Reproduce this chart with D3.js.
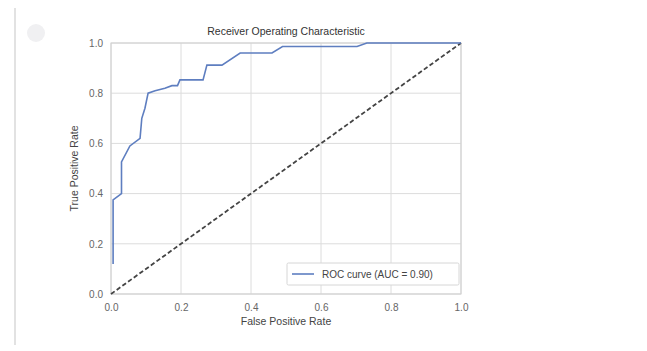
<!DOCTYPE html>
<html>
<head>
<meta charset="utf-8">
<script src="https://cdn.jsdelivr.net/npm/d3@7"></script>
<style>
  html, body { margin: 0; padding: 0; background: #fff; }
  svg { display: block; font-family: "Liberation Sans", Arial, sans-serif; }
</style>
</head>
<body>
<svg id="chart" width="647" height="351"></svg>
<script>
// ROC curve points (false positive rate, true positive rate)
const fpr = [0.006, 0.006, 0.030, 0.030, 0.054, 0.083, 0.088, 0.097, 0.106, 0.126, 0.154, 0.174, 0.190, 0.197, 0.263, 0.274, 0.317, 0.369, 0.460, 0.490, 0.703, 0.731, 1.0];
const tpr = [0.120, 0.375, 0.400, 0.526, 0.590, 0.620, 0.700, 0.740, 0.800, 0.810, 0.820, 0.830, 0.830, 0.853, 0.853, 0.912, 0.912, 0.960, 0.960, 0.986, 0.986, 1.0, 1.0];
const auc = 0.90;
const xTicks = [0.0, 0.2, 0.4, 0.6, 0.8, 1.0];
const yTicks = [0.0, 0.2, 0.4, 0.6, 0.8, 1.0];
const chance = [0, 1];

const svg = d3.select("#chart");
const margin = { left: 111, right: 186, top: 43, bottom: 57 };
const W = 647, H = 351;
const x = d3.scaleLinear().domain([0, 1]).range([margin.left, W - margin.right]);
const y = d3.scaleLinear().domain([0, 1]).range([H - margin.bottom, margin.top]);

// notebook gutter and prompt marker
svg.append("line").attr("x1", 15).attr("x2", 15).attr("y1", 8).attr("y2", 345)
  .attr("stroke", "#e2e2e2").attr("stroke-width", 2);
svg.append("circle").attr("cx", 36).attr("cy", 33).attr("r", 9).attr("fill", "#f0f0f2");

// grid
const grid = svg.append("g");
grid.selectAll(".gx").data(xTicks).join("line")
  .attr("x1", d => x(d)).attr("x2", d => x(d))
  .attr("y1", y(0)).attr("y2", y(1))
  .attr("stroke", "#dcdcdc").attr("stroke-width", 1);
grid.selectAll(".gy").data(yTicks).join("line")
  .attr("y1", d => y(d)).attr("y2", d => y(d))
  .attr("x1", x(0)).attr("x2", x(1))
  .attr("stroke", "#dcdcdc").attr("stroke-width", 1);

// frame
svg.append("rect").attr("x", x(0)).attr("y", y(1))
  .attr("width", x(1) - x(0)).attr("height", y(0) - y(1))
  .attr("fill", "none").attr("stroke", "#cfcfcf").attr("stroke-width", 1);

// axes (labels only)
const xAxis = d3.axisBottom(x).tickValues(xTicks).tickFormat(d3.format(".1f")).tickSize(0).tickPadding(10);
const yAxis = d3.axisLeft(y).tickValues(yTicks).tickFormat(d3.format(".1f")).tickSize(0).tickPadding(8);
const gx = svg.append("g").attr("transform", `translate(0,${y(0)})`).call(xAxis);
const gy = svg.append("g").attr("transform", `translate(${x(0)},0)`).call(yAxis);
[gx, gy].forEach(g => {
  g.select(".domain").remove();
  g.selectAll("text").attr("fill", "#666").style("font-size", "10px");
});

// chance diagonal
svg.append("line")
  .attr("x1", x(chance[0])).attr("y1", y(chance[0]))
  .attr("x2", x(chance[1])).attr("y2", y(chance[1]))
  .attr("stroke", "#444").attr("stroke-width", 1.8).attr("stroke-dasharray", "4.5,2.5");

// ROC curve
const pts = fpr.map((f, i) => [f, tpr[i]]);
svg.append("path").datum(pts)
  .attr("d", d3.line().x(d => x(d[0])).y(d => y(d[1])))
  .attr("fill", "none").attr("stroke", "#5e7ec0").attr("stroke-width", 1.6);

// title and axis labels
svg.append("text").attr("x", (x(0) + x(1)) / 2).attr("y", 35).attr("text-anchor", "middle")
  .attr("fill", "#333").style("font-size", "10.5px").text("Receiver Operating Characteristic");
svg.append("text").attr("x", (x(0) + x(1)) / 2).attr("y", 325).attr("text-anchor", "middle")
  .attr("fill", "#444").style("font-size", "10.5px").text("False Positive Rate");
svg.append("text").attr("transform", `translate(78,${(y(0) + y(1)) / 2}) rotate(-90)`)
  .attr("text-anchor", "middle").attr("fill", "#444").style("font-size", "10.5px").text("True Positive Rate");

// legend
const lg = svg.append("g");
lg.append("rect").attr("x", 287).attr("y", 263).attr("width", 172).attr("height", 22)
  .attr("fill", "#fff").attr("stroke", "#d6d6d6").attr("stroke-width", 1).attr("rx", 1.5);
lg.append("line").attr("x1", 292).attr("x2", 314).attr("y1", 274).attr("y2", 274)
  .attr("stroke", "#5e7ec0").attr("stroke-width", 1.6);
lg.append("text").attr("x", 322).attr("y", 277.5).attr("fill", "#444").style("font-size", "10px")
  .text(`ROC curve (AUC = ${auc.toFixed(2)})`);
</script>
</body>
</html>
